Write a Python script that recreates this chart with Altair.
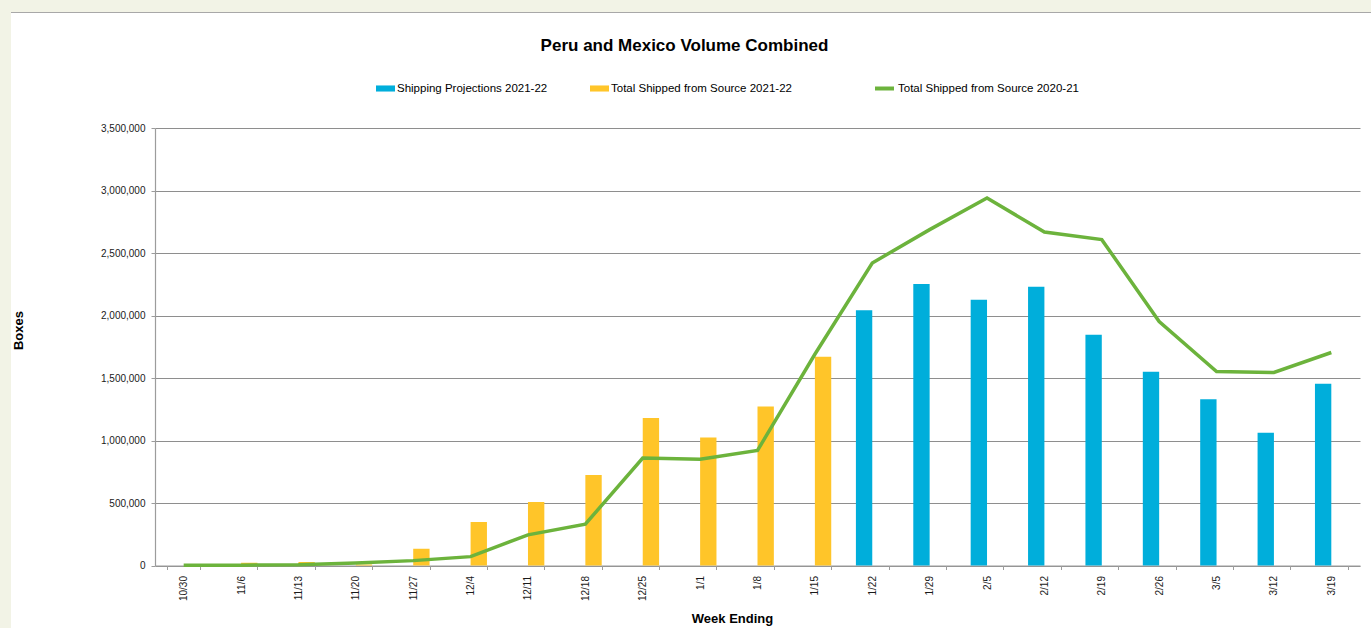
import altair as alt
import pandas as pd

# Week-ending dates on the x axis
weeks = ["10/30", "11/6", "11/13", "11/20", "11/27", "12/4", "12/11", "12/18",
         "12/25", "1/1", "1/8", "1/15", "1/22", "1/29", "2/5", "2/12", "2/19",
         "2/26", "3/5", "3/12", "3/19"]

# Total shipped from source 2021-22 (weeks 10/30 .. 1/15)
shipped_2122 = [0, 22000, 28000, 8000, 134000, 348000, 508000, 725000,
                1181000, 1024000, 1272000, 1670000]

# Shipping projections 2021-22 (weeks 1/22 .. 3/19)
projections_2122 = [2042000, 2252000, 2127000, 2231000, 1846000, 1550000,
                    1331000, 1062000, 1454000]

# Total shipped from source 2020-21 (all weeks)
shipped_2021 = [2000, 3000, 6000, 20000, 39000, 71000, 245000, 331000,
                859000, 851000, 920000, 1690000, 2420000, 2687000, 2940000,
                2668000, 2607000, 1952000, 1552000, 1544000, 1704000]

SERIES_PROJ = "Shipping Projections 2021-22"
SERIES_SHIP = "Total Shipped from Source 2021-22"
SERIES_PREV = "Total Shipped from Source 2020-21"

BLUE = "#00AEDB"
YELLOW = "#FFC529"
GREEN = "#6CB33C"
GRID = "#8e8e8e"
AXIS = "#9c9c9c"
TEXT = "#1a1a1a"
FRAME = "#F2F3E6"

bar_rows = []
for wk, v in zip(weeks[:len(shipped_2122)], shipped_2122):
    bar_rows.append({"week": wk, "series": SERIES_SHIP, "value": v})
for wk, v in zip(weeks[len(weeks) - len(projections_2122):], projections_2122):
    bar_rows.append({"week": wk, "series": SERIES_PROJ, "value": v})
bar_df = pd.DataFrame(bar_rows)

line_df = pd.DataFrame({"week": weeks, "series": SERIES_PREV, "value": shipped_2021})

x_enc = alt.X(
    "week:N",
    sort=weeks,
    scale=alt.Scale(paddingInner=0.43, paddingOuter=0.215),
    axis=alt.Axis(
        title="Week Ending",
        titleFontSize=13,
        titleFontWeight="bold",
        titleColor="black",
        titleX=577,
        titleY=47,
        titleAlign="center",
        titleBaseline="top",
        labelAngle=270,
        labelFontSize=10,
        labelColor=TEXT,
        labelPadding=6,
        tickBand="extent",
        tickSize=4,
        tickColor=AXIS,
        domainColor=AXIS,
        domainWidth=1.2,
        grid=False,
    ),
)

y_enc = alt.Y(
    "value:Q",
    scale=alt.Scale(domain=[0, 3500000], nice=False),
    axis=alt.Axis(
        title="Boxes",
        titleFontSize=13,
        titleFontWeight="bold",
        titleColor="black",
        titleAngle=270,
        titleX=-133,
        titleY=202,
        titleAlign="center",
        titleBaseline="alphabetic",
        values=[0, 500000, 1000000, 1500000, 2000000, 2500000, 3000000, 3500000],
        format=",d",
        labelFontSize=10,
        labelColor=TEXT,
        labelPadding=6,
        tickSize=4,
        tickColor=AXIS,
        domainColor=AXIS,
        domainWidth=1.2,
        gridColor=GRID,
        gridWidth=1,
    ),
)

# Tinted frame strips along the left and top edges, with a thin rule under the top strip
one = pd.DataFrame({"k": [0]})
frame_left = alt.Chart(one).mark_rect(fill=FRAME).encode(
    x=alt.value(-155), x2=alt.value(-144), y=alt.value(-128), y2=alt.value(500)
)
frame_top = alt.Chart(one).mark_rect(fill=FRAME).encode(
    x=alt.value(-155), x2=alt.value(1216), y=alt.value(-128), y2=alt.value(-116)
)
frame_edge = alt.Chart(one).mark_rule(stroke="#a8a8a8", strokeWidth=1).encode(
    x=alt.value(-144), x2=alt.value(1216), y=alt.value(-115.5)
)

bars = alt.Chart(bar_df).mark_bar().encode(
    x=x_enc,
    xOffset=alt.XOffset(
        "series:N",
        scale=alt.Scale(domain=[SERIES_PROJ, SERIES_SHIP], paddingInner=0, paddingOuter=0),
    ),
    y=y_enc,
    fill=alt.Fill(
        "series:N",
        scale=alt.Scale(domain=[SERIES_PROJ, SERIES_SHIP], range=[BLUE, YELLOW]),
        legend=alt.Legend(
            title=None,
            orient="none",
            direction="horizontal",
            legendX=221,
            legendY=-49,
            symbolType="M-1,-0.32H1V0.32H-1Z",
            symbolSize=361,
            symbolStrokeWidth=0,
            labelFontSize=11.5,
            labelColor="black",
            labelOffset=2,
            labelLimit=400,
            columnPadding=42,
            padding=0,
        ),
    ),
)

line = alt.Chart(line_df).mark_line(strokeWidth=3.5).encode(
    x=alt.X("week:N", sort=weeks),
    y=alt.Y("value:Q"),
    stroke=alt.Stroke(
        "series:N",
        scale=alt.Scale(domain=[SERIES_PREV], range=[GREEN]),
        legend=alt.Legend(
            title=None,
            orient="none",
            legendX=718,
            legendY=-51,
            symbolType="stroke",
            symbolSize=361,
            symbolStrokeWidth=4,
            labelFontSize=11.5,
            labelColor="black",
            labelOffset=2,
            labelLimit=400,
            padding=0,
        ),
    ),
)

chart = (
    alt.layer(frame_left, frame_top, frame_edge, bars, line)
    .resolve_scale(fill="independent", stroke="independent")
    .properties(
        width=1205,
        height=437.5,
        autosize=alt.AutoSizeParams(type="none"),
        padding={"left": 155, "top": 128, "right": 11, "bottom": 62.5},
        title=alt.Title(
            "Peru and Mexico Volume Combined",
            fontSize=17,
            fontWeight="bold",
            color="black",
            anchor="middle",
            offset=-55,
            dx=-73,
        ),
    )
    .configure(background="white", font="Liberation Sans")
    .configure_view(strokeWidth=0)
)

chart.save("out.html", embed_options={"renderer": "svg", "actions": False})
